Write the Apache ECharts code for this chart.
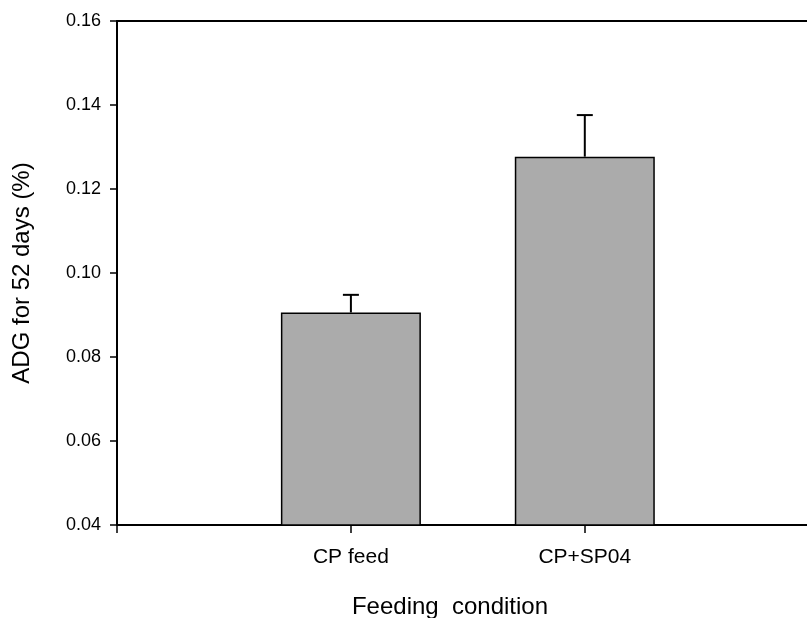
<!DOCTYPE html>
<html>
<head>
<meta charset="utf-8">
<script src="https://cdn.jsdelivr.net/npm/echarts@6/dist/echarts.min.js"></script>
<style>
html,body{margin:0;padding:0;background:#fff;}
#chart{width:807px;height:618px;}
</style>
</head>
<body>
<div id="chart"></div>
<script>
const categories = ['CP feed', 'CP+SP04'];
const adgMean = [0.0906, 0.1277];
const adgErr = [0.0042, 0.0099];
const yTicks = [0.04, 0.06, 0.08, 0.10, 0.12, 0.14, 0.16];

const chart = echarts.init(document.getElementById('chart'), null, {renderer: 'canvas'});
const font = 'Liberation Sans, Arial, sans-serif';
const barData = categories.map((c, i) => [i + 1, adgMean[i]]);
const errData = categories.map((c, i) => [i + 1, adgMean[i], adgMean[i] + adgErr[i]]);

const option = {
  animation: false,
  backgroundColor: '#fff',
  grid: {left: 117, top: 21, right: 0, height: 504, containLabel: false, outerBoundsMode: 'none'},
  xAxis: [{
    type: 'value', min: 0, max: 2.95, interval: 1,
    splitLine: {show: false},
    axisLine: {show: true, onZero: false, lineStyle: {color: '#000', width: 2}},
    axisTick: {show: true, length: 8, lineStyle: {color: '#000', width: 1.5}},
    axisLabel: {
      fontFamily: font, fontSize: 21, color: '#000', margin: 22,
      showMaxLabel: false,
      formatter: v => categories[Math.round(v) - 1] && Math.abs(v - Math.round(v)) < 1e-6 ? categories[Math.round(v) - 1] : ''
    },
    name: 'Feeding  condition', nameLocation: 'middle', nameGap: 70,
    nameTextStyle: {fontFamily: font, fontSize: 24, color: '#000', padding: [0, 24, 0, 0]}
  }, {
    type: 'value', min: 0, max: 2.95, position: 'top',
    splitLine: {show: false},
    axisLine: {show: true, onZero: false, lineStyle: {color: '#000', width: 2}},
    axisTick: {show: false}, axisLabel: {show: false}
  }],
  yAxis: {
    type: 'value', min: yTicks[0], max: yTicks[yTicks.length - 1], interval: 0.02,
    splitLine: {show: false},
    axisLine: {show: true, onZero: false, lineStyle: {color: '#000', width: 2}},
    axisTick: {show: true, length: 7, lineStyle: {color: '#000', width: 1.5}},
    axisLabel: {fontFamily: font, fontSize: 18, color: '#000', margin: 16,
      formatter: v => v.toFixed(2)},
    name: 'ADG for 52 days (%)', nameLocation: 'middle', nameGap: 83,
    nameTextStyle: {fontFamily: font, fontSize: 24, color: '#000'}
  },
  series: [{
    type: 'bar', xAxisIndex: 0, data: barData, barWidth: 140,
    itemStyle: {color: '#ababab', borderColor: '#000', borderWidth: 1.5},
    z: 2
  }, {
    type: 'custom', xAxisIndex: 0, data: errData, z: 3,
    renderItem: function (params, api) {
      const x = api.value(0);
      const p0 = api.coord([x, api.value(1)]);
      const p1 = api.coord([x, api.value(2)]);
      const hw = 8;
      return {
        type: 'group',
        children: [
          {type: 'line', shape: {x1: p0[0], y1: p0[1], x2: p1[0], y2: p1[1]},
            style: {stroke: '#000', lineWidth: 2}},
          {type: 'line', shape: {x1: p1[0] - hw, y1: p1[1], x2: p1[0] + hw, y2: p1[1]},
            style: {stroke: '#000', lineWidth: 2}}
        ]
      };
    }
  }]
};
chart.setOption(option);
</script>
</body>
</html>
